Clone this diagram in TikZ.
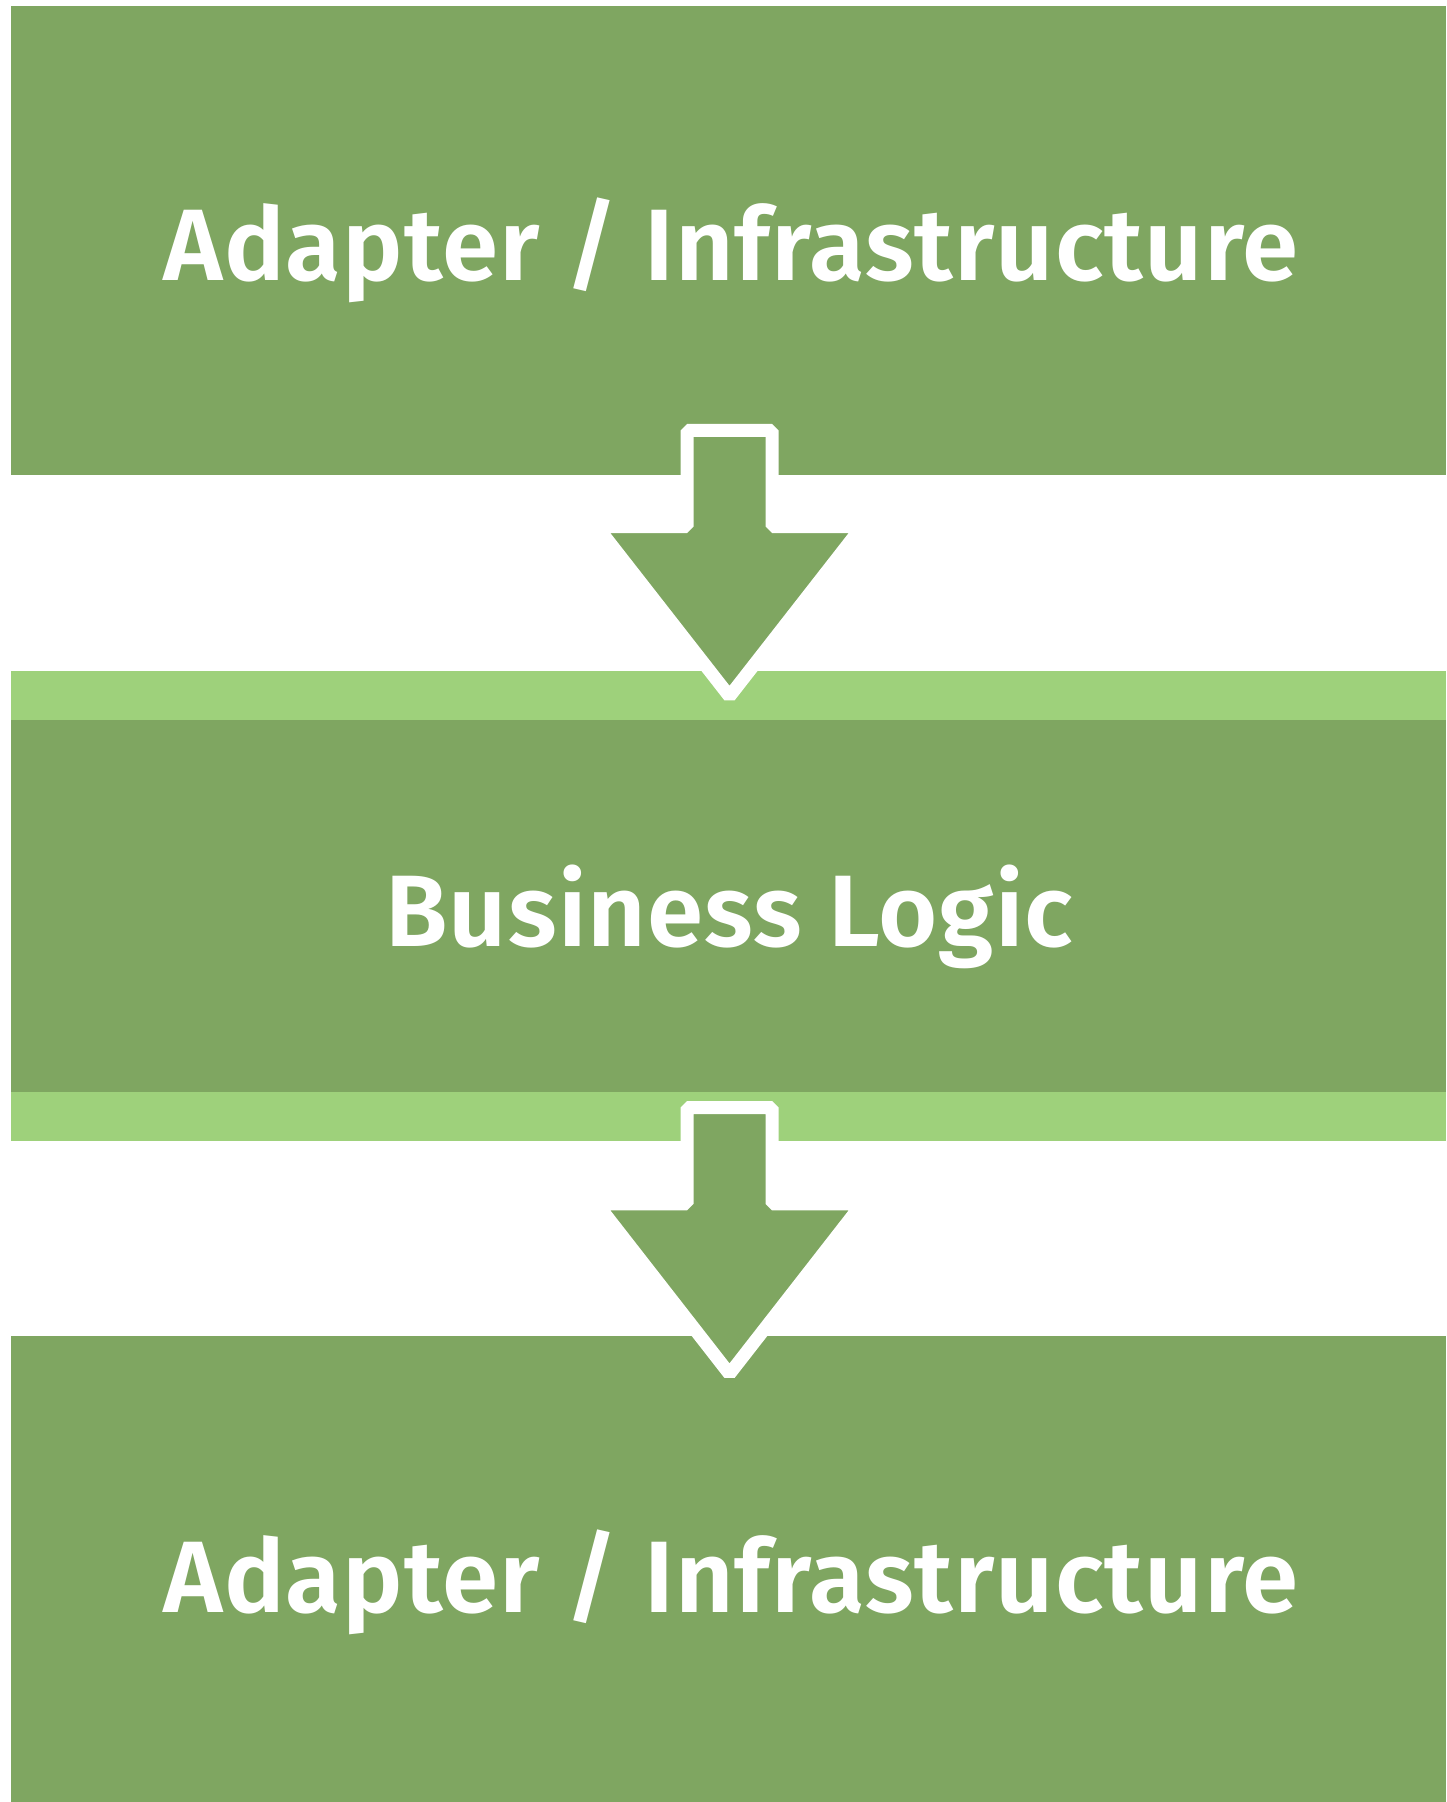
\documentclass[tikz,border=0pt]{standalone}
\usepackage{fontspec}
\IfFontExistsTF{Fira Sans SemiBold}
  {\newfontfamily\labfam{Fira Sans SemiBold}[LetterSpace=1.05]\newcommand\labfont{\labfam}}
  {\newfontfamily\labfam{Fira Sans}[LetterSpace=1.05]\newcommand\labfont{\labfam\bfseries}}
\definecolor{darkgreen}{RGB}{127,166,97}
\definecolor{lightgreen}{RGB}{158,209,123}
\tikzset{
  layerbox/.style={draw=none, fill=darkgreen, rectangle, inner sep=0pt, anchor=north west},
  bandbox/.style={draw=none, fill=lightgreen, rectangle, inner sep=0pt, anchor=north west},
  labeltext/.style={text=white, inner sep=0pt, anchor=base, font=\labfont\fontsize{50.8}{60}\selectfont},
  blockarrow/.style={fill=darkgreen, draw=white, line width=6.5pt, line join=bevel}
}
\begin{document}
\begin{tikzpicture}[x=0.5pt,y=-0.5pt]
\useasboundingbox (0,0) rectangle (1446,1802);
% top layer
\node[layerbox, minimum width=717.5pt, minimum height=234.5pt] (top) at (11,6) {};
% middle layer with bands
\node[bandbox, minimum width=717.5pt, minimum height=24.5pt] (bandA) at (11,671) {};
\node[layerbox, minimum width=717.5pt, minimum height=186pt] (mid) at (11,720) {};
\node[bandbox, minimum width=717.5pt, minimum height=24.5pt] (bandB) at (11,1092) {};
% bottom layer
\node[layerbox, minimum width=717.5pt, minimum height=233pt] (bot) at (11,1336) {};
% labels
\node[labeltext] (toplabel) at (731,281) {Adapter / Infrastructure};
\node[labeltext] (midlabel) at (729.5,946) {Business Logic};
\node[labeltext] (botlabel) at (731,1612.5) {Adapter / Infrastructure};
% arrows
\draw[blockarrow] (687,430.5) -- (772,430.5) -- (772,526.5) -- (862,526.5)
  -- (729.5,696.3) -- (597,526.5) -- (687,526.5) -- cycle;
\draw[blockarrow] (687,1107.5) -- (772,1107.5) -- (772,1203.8) -- (862,1203.8)
  -- (729.5,1373.9) -- (597,1203.8) -- (687,1203.8) -- cycle;
\end{tikzpicture}
\end{document}
